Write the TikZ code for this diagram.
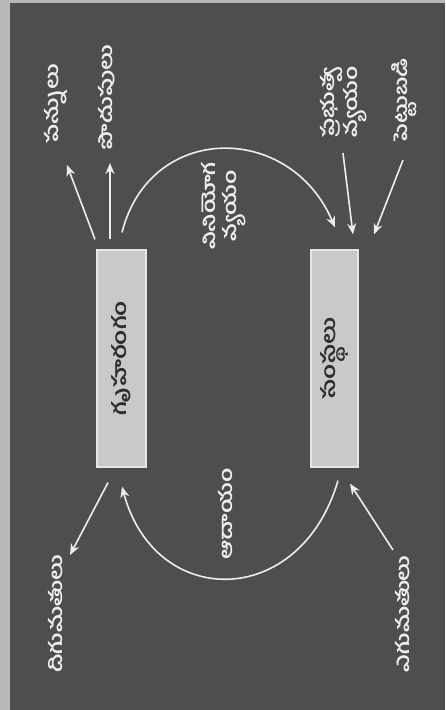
\documentclass[tikz,border=0pt]{standalone}
\usepackage{fontspec}
\newfontfamily\telugu[Script=Telugu]{Hind Guntur}
\usetikzlibrary{arrows.meta,calc}
\definecolor{bgdark}{HTML}{4E4E4E}
\definecolor{bgstrip}{HTML}{B8B8B8}
\definecolor{boxfill}{HTML}{C9C9C9}
\definecolor{boxedge}{HTML}{E6E6E6}
\definecolor{inkwhite}{HTML}{EDEDED}
\definecolor{boxtext}{HTML}{2E2E2E}
\newcommand{\tlbl}[1]{\scalebox{1.3}[1]{\begin{tabular}{@{}c@{}}#1\end{tabular}}}
\begin{document}
\begin{tikzpicture}[x=1pt,y=-1pt,
  sector/.style={draw=boxedge, line width=1.2pt, fill=boxfill, inner sep=0pt},
  lbl/.style={text=inkwhite, font=\telugu\bfseries\fontsize{18}{21}\selectfont, rotate=90, inner sep=0pt},
  flow/.style={draw=inkwhite, line width=1.6pt, -{Stealth[length=11pt,width=9pt]}}]
  % background
  \fill[bgstrip] (0,0) rectangle (445,710);
  \fill[bgdark] (10,3) rectangle (445,710);
  \useasboundingbox (0,0) rectangle (445,710);
  % boxes
  \node[sector, minimum width=49pt, minimum height=217pt] (hh) at (121.5,358.5)
    {\rotatebox{90}{\scalebox{1.3}[1]{\telugu\bfseries\fontsize{19}{21}\selectfont\color{boxtext}గృహరంగం}}};
  \node[sector, minimum width=47pt, minimum height=217pt] (fi) at (334.5,358.5)
    {\rotatebox{90}{\scalebox{1.3}[1]{\telugu\bfseries\fontsize{19}{21}\selectfont\color{boxtext}సంస్థలు}}};
  % labels
  \node[lbl] (tax) at (56,104) {\tlbl{పన్నులు}};
  \node[lbl] (sav) at (108,97) {\tlbl{పొదుపులు}};
  \node[lbl] (cons) at (223,206) {\tlbl{వినియోగ\\వ్యయం}};
  \node[lbl] (gov) at (343,102) {\tlbl{ప్రభుత్వ\\వ్యయం}};
  \node[lbl] (inv) at (404,100) {\tlbl{పెట్టుబడి}};
  \node[lbl] (inc) at (228,514) {\tlbl{ఆదాయం}};
  \node[lbl] (imp) at (58,614) {\tlbl{దిగుమతులు}};
  \node[lbl] (exp) at (405,614) {\tlbl{ఎగుమతులు}};
  % free ends
  \coordinate (taxend) at (67,165);
  \coordinate (savend) at (110,163);
  \coordinate (govstart) at (343,153);
  \coordinate (invstart) at (403,160);
  \coordinate (impend) at (70,555);
  \coordinate (expstart) at (393,550);
  % connectors
  \draw[flow] ($(hh.north)+(-26.5,-10)$) -- (taxend);
  \draw[flow] ($(hh.north)+(-11.5,-10)$) -- (savend);
  \draw[flow] ($(hh.north)+(0.5,-17)$) .. controls (150,122) and (290,122) .. ($(fi.north)+(0.5,-22)$);
  \draw[flow] (govstart) -- ($(fi.north)+(18.5,-15)$);
  \draw[flow] (invstart) -- ($(fi.north)+(39.5,-15)$);
  \draw[flow] ($(fi.south)+(3.5,13)$) .. controls (300,610) and (155,610) .. ($(hh.south)+(0.5,19)$);
  \draw[flow] ($(hh.south)+(-13.5,15)$) -- (impend);
  \draw[flow] (expstart) -- ($(fi.south)+(15.5,16)$);
\end{tikzpicture}
\end{document}
